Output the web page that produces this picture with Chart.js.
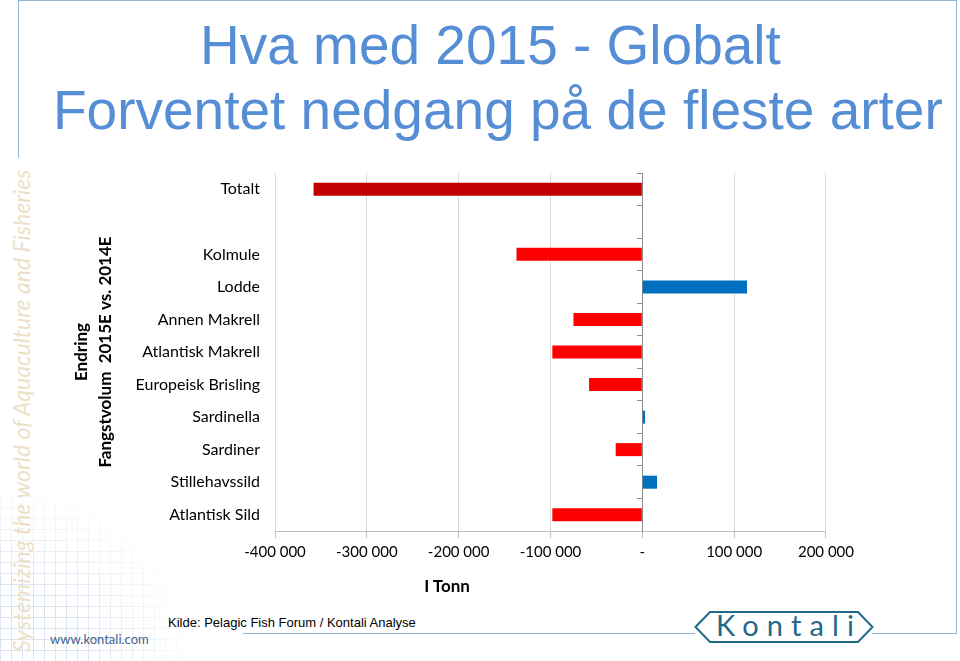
<!DOCTYPE html>
<html lang="no">
<head>
<meta charset="utf-8">
<title>Hva med 2015 - Globalt</title>
<script src="https://cdn.jsdelivr.net/npm/chart.js@4.4.1/dist/chart.umd.min.js"></script>
<style>
  html, body { margin: 0; padding: 0; background: #fff; }
  #slide { position: relative; width: 960px; height: 661px; overflow: hidden; font-family: "Liberation Sans", Arial, sans-serif; }
  .line { position: absolute; background: #95B3D7; }
  .title { position: absolute; color: #558ED5; font-size: 55px; line-height: 55px; white-space: nowrap; }
  #paper {
    position: absolute; left: 0; top: 430px; width: 250px; height: 231px;
    background-image: linear-gradient(#D3DFEE 1px, transparent 1px), linear-gradient(90deg, #D3DFEE 1px, transparent 1px);
    background-size: 11px 11px;
    -webkit-mask-image: radial-gradient(ellipse 100% 100% at 0% 100%, #000 35%, transparent 80%);
    mask-image: radial-gradient(ellipse 100% 100% at 0% 100%, #000 35%, transparent 80%);
    opacity: 0.8;
  }
  #motto {
    position: absolute; left: 7px; top: 652px; width: 482px; height: 30px; line-height: 30px;
    font: italic 23px Lato, sans-serif; color: #ECE1C6; white-space: nowrap;
    transform: rotate(-90deg); transform-origin: 0 0;
  }
  #chart { position: absolute; left: 0; top: 160px; }
  #unit { position: absolute; left: 397px; top: 575px; width: 100px; text-align: center; font: bold 17px Lato, sans-serif; color: #000; }
  #source { position: absolute; left: 168px; top: 615px; font-size: 13px; line-height: 15px; color: #000; white-space: nowrap; }
  #web { position: absolute; left: 50px; top: 631px; font: 13px Lato, sans-serif; color: #41618F; }
  #logo { position: absolute; left: 694px; top: 610px; }
</style>
</head>
<body>
<div id="slide">
  <div class="line" style="left:18px;top:0;width:939px;height:1px"></div>
  <div class="line" style="left:18px;top:0;width:1px;height:158px"></div>
  <div class="line" style="left:956px;top:0;width:1px;height:634px"></div>
  <div class="line" style="left:243px;top:633px;width:452px;height:1px"></div>
  <div class="line" style="left:872px;top:633px;width:85px;height:1px"></div>

  <div class="title" style="left:200px;top:18px">Hva med 2015 - Globalt</div>
  <div class="title" style="left:53px;top:83px">Forventet nedgang på de fleste arter</div>

  <div id="paper"></div>
  <div id="motto">Systemizing the world of Aquaculture and Fisheries</div>

  <canvas id="chart" width="859" height="440"></canvas>
  <div id="unit">I Tonn</div>

  <div id="source">Kilde: Pelagic Fish Forum / Kontali Analyse</div>
  <div id="web">www.kontali.com</div>
  <svg id="logo" width="180" height="34" viewBox="0 0 180 34">
    <polygon points="1.5,17 16,2 164,2 178.5,17 164,32 16,32" fill="none" stroke="#1F6A8A" stroke-width="2"/>
    <text x="22" y="26" textLength="138" font-family="Lato, sans-serif" font-size="29" fill="#1F6A8A">Kontali</text>
  </svg>
</div>

<script>
// arter og endring i fangstvolum 2015E vs. 2014E (tonn)
const categories = ['Totalt', '', 'Kolmule', 'Lodde', 'Annen Makrell', 'Atlantisk Makrell',
    'Europeisk Brisling', 'Sardinella', 'Sardiner', 'Stillehavssild', 'Atlantisk Sild'];
const endring = [-358000, null, -137000, 114000, -75000, -98000, -58000, 3000, -29000, 16000, -98000];

const xTicks = [-400000, -300000, -200000, -100000, 0, 100000, 200000];
const xTickLabels = ['-400 000', '-300 000', '-200 000', '-100 000', '-', '100 000', '200 000'];
const yTitle = ['Endring', 'Fangstvolum  2015E vs. 2014E'];

// totalen mørk rød, nedgang rød, oppgang blå
function barColor(v, i) {
    if (i === 0) return '#C00000';
    return v < 0 ? '#FF0000' : '#0070C0';
}

Chart.defaults.font.family = 'Lato, "Open Sans", sans-serif';
Chart.defaults.color = '#000';

new Chart(document.getElementById('chart'), {
    type: 'bar',
    data: {
        labels: categories,
        datasets: [{
            data: endring,
            backgroundColor: endring.map(barColor),
            categoryPercentage: 1,
            barPercentage: 0.4,
            yAxisID: 'y'
        }]
    },
    options: {
        indexAxis: 'y',
        responsive: false,
        animation: false,
        devicePixelRatio: 1,
        layout: { padding: { left: 70, top: 13, right: 0, bottom: 0 } },
        plugins: { legend: { display: false }, tooltip: { enabled: false } },
        scales: {
            x: {
                type: 'linear',
                min: -400000,
                max: 200000,
                afterBuildTicks: s => { s.ticks = xTicks.map(v => ({ value: v })); },
                afterFit: s => { s.height = 69; },
                grid: { color: '#D9D9D9', tickColor: '#BFBFBF', tickLength: 7 },
                border: { color: '#BFBFBF' },
                ticks: { font: { size: 15 }, padding: 5, maxRotation: 0, callback: (v, i) => xTickLabels[i] }
            },
            y: {
                type: 'category',
                position: 'left',
                offset: true,
                grid: { display: false, drawTicks: false },
                border: { display: false },
                afterFit: s => { s.width = 205; s.paddingTop = 0; s.paddingBottom = 0; },
                ticks: { font: { size: 16 }, padding: 15 },
                title: {
                    display: true,
                    text: yTitle,
                    font: { size: 17, weight: 'bold', lineHeight: 1.41 },
                    padding: 0
                }
            },
            // nullinjen med små merker mellom kategoriene
            zero: {
                axis: 'y',
                type: 'category',
                position: { x: 0 },
                offset: true,
                afterFit: s => { s.paddingTop = 0; s.paddingBottom = 0; },
                grid: { offset: true, drawOnChartArea: false, tickLength: 5, color: '#8C8C8C', tickColor: '#8C8C8C' },
                border: { display: true, color: '#8C8C8C' },
                ticks: { display: false }
            }
        }
    }
});
</script>
</body>
</html>
